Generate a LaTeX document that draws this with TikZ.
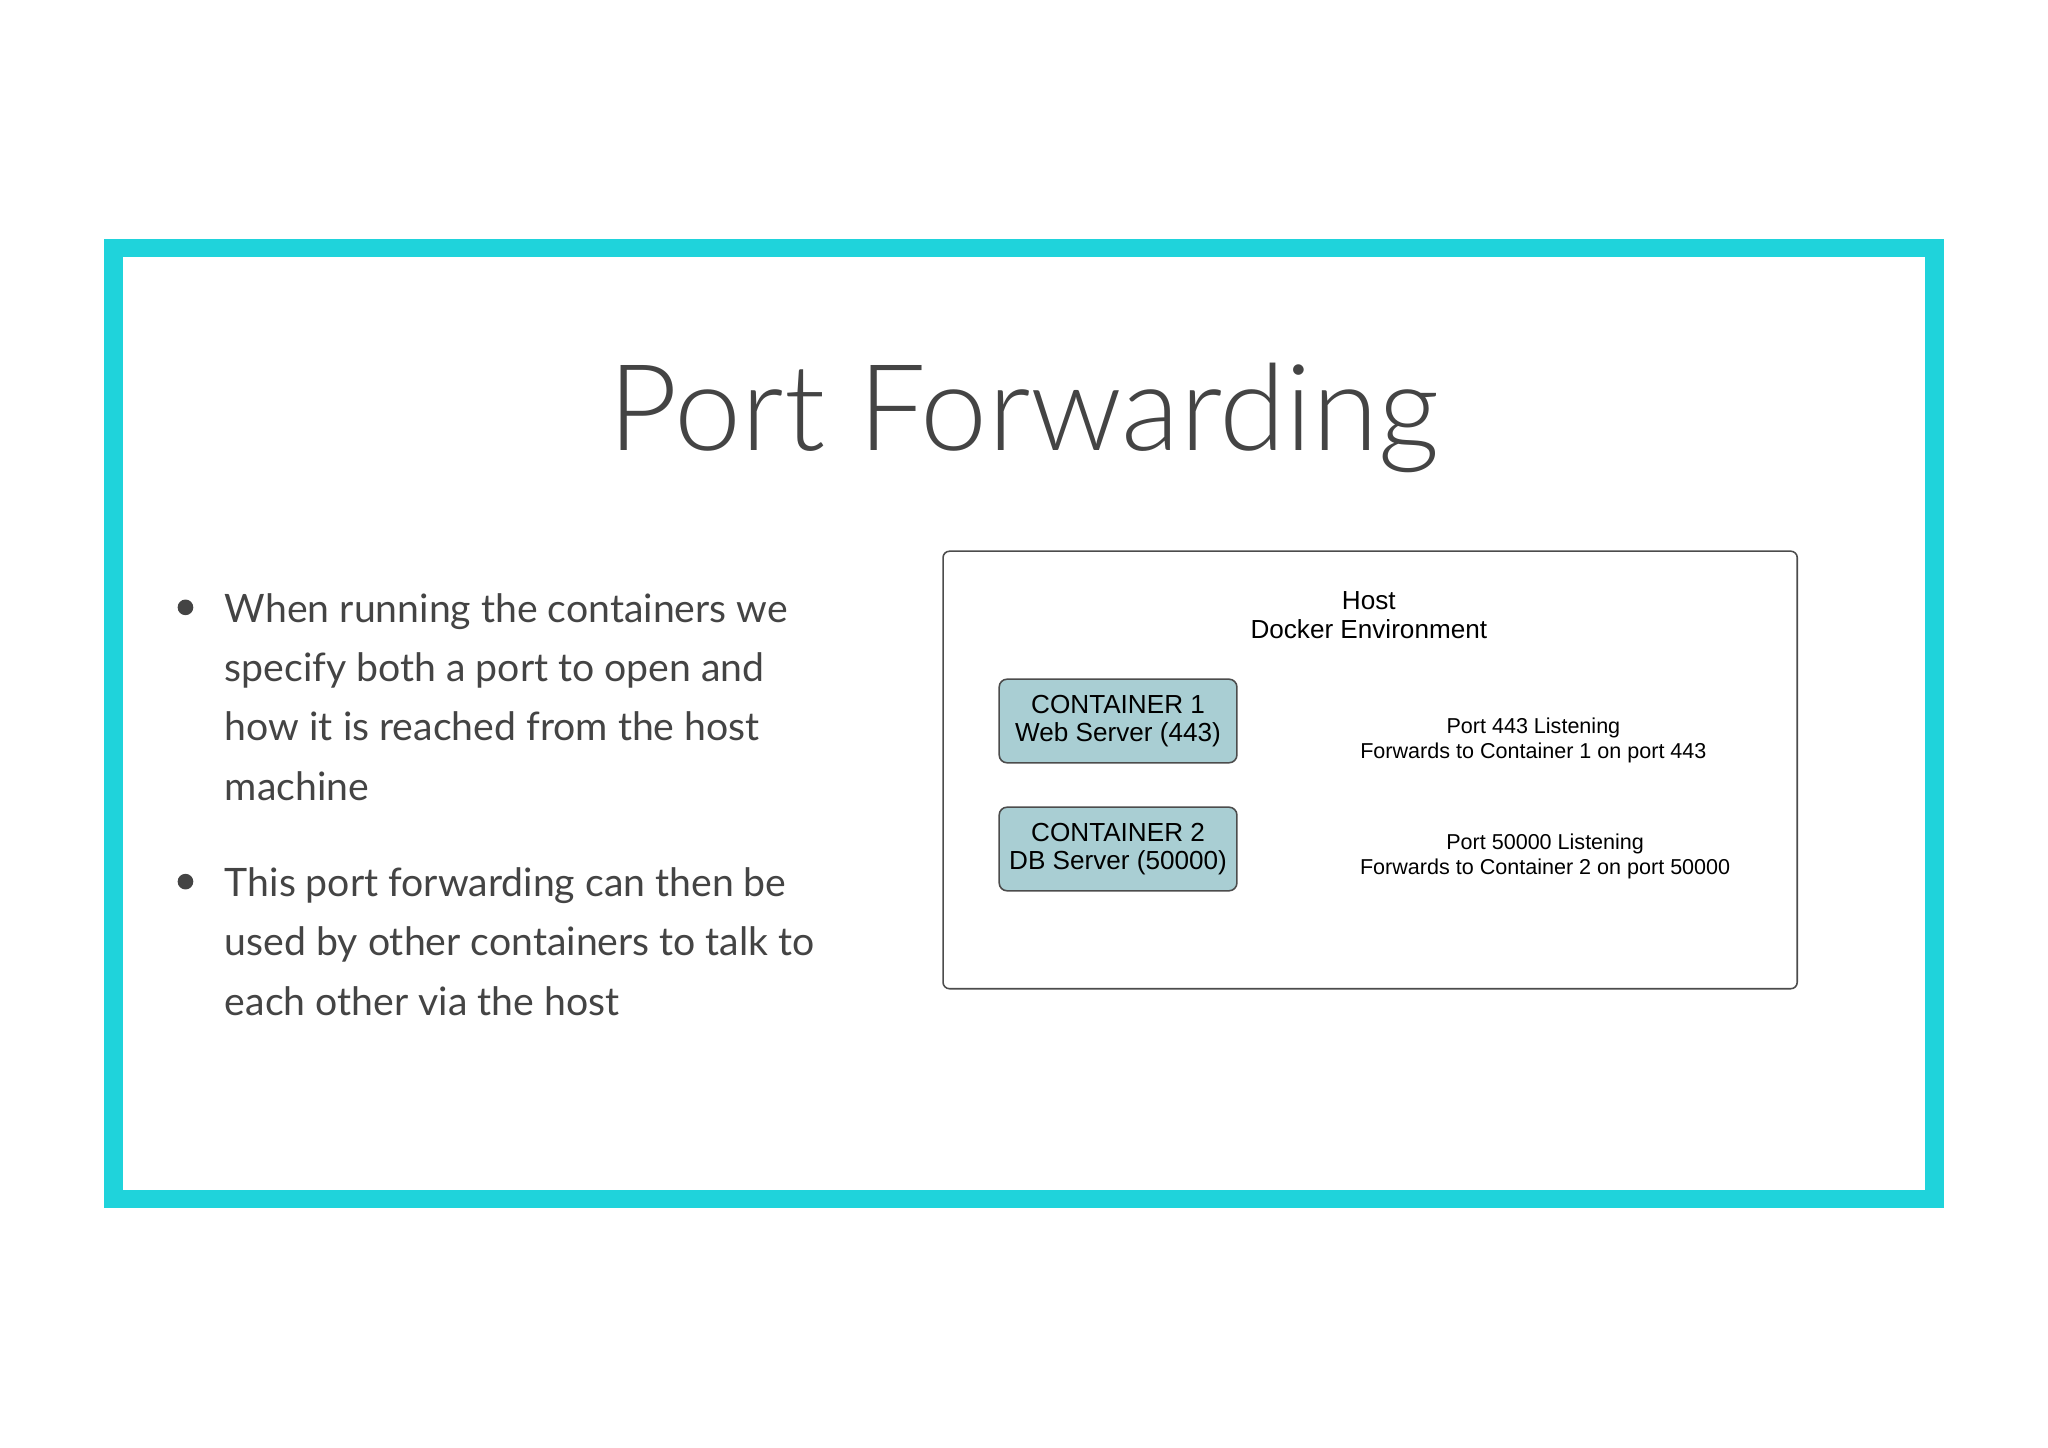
\documentclass[tikz,border=0pt]{standalone}
\usepackage{fontspec}
\setmainfont{Lato}
\newfontfamily\thin{Lato Light}
\newfontfamily\arial{Liberation Sans}
\definecolor{cyanf}{HTML}{1FD3DB}
\definecolor{contf}{HTML}{A9CED3}
\definecolor{txt}{HTML}{444444}
\begin{document}
\begin{tikzpicture}[x=1pt,y=-1pt,
  bul/.style={anchor=west,font=\fontsize{30}{45.5}\selectfont,text=txt,align=left,inner sep=0},
  cont/.style={draw=black!70,line width=1.2pt,fill=contf,rounded corners=6pt,minimum width=182pt,minimum height=64pt,align=center,font=\arial\fontsize{20}{22}\selectfont,inner sep=0},
  lbl/.style={align=center,font=\arial\fontsize{16.5}{19}\selectfont,inner sep=0}]
\useasboundingbox (0,0) rectangle (1568,1108);
\fill[white] (0,0) rectangle (1568,1108);
\draw[cyanf,line width=14pt] (87,190) rectangle (1481,918);
\node[font=\thin\fontsize{92}{92}\selectfont,text=txt,anchor=base] (title) at (784,345) {Port Forwarding};
\fill[txt] (142,465) circle (6);
\fill[txt] (142,675) circle (6);
\node[bul,anchor=north west] (b1) at (172,454) {When running the containers we\\specify both a port to open and\\how it is reached from the host\\machine};
\node[bul,anchor=north west] (b2) at (172,664) {This port forwarding can then be\\used by other containers to talk to\\each other via the host};
\draw[black!70,line width=1.2pt,rounded corners=5pt] (722,422) rectangle (1376,757);
\node[align=center,font=\arial\fontsize{20}{22}\selectfont,inner sep=0] (host) at (1048,471) {Host\\Docker Environment};
\node[cont] (c1) at (856,552) {CONTAINER 1\\Web Server (443)};
\node[cont] (c2) at (856,650) {CONTAINER 2\\DB Server (50000)};
\node[lbl] (l1) at (1174,567) {Port 443 Listening\\Forwards to Container 1 on port 443};
\node[lbl] (l2) at (1183,656) {Port 50000 Listening\\Forwards to Container 2 on port 50000};
\end{tikzpicture}
\end{document}
